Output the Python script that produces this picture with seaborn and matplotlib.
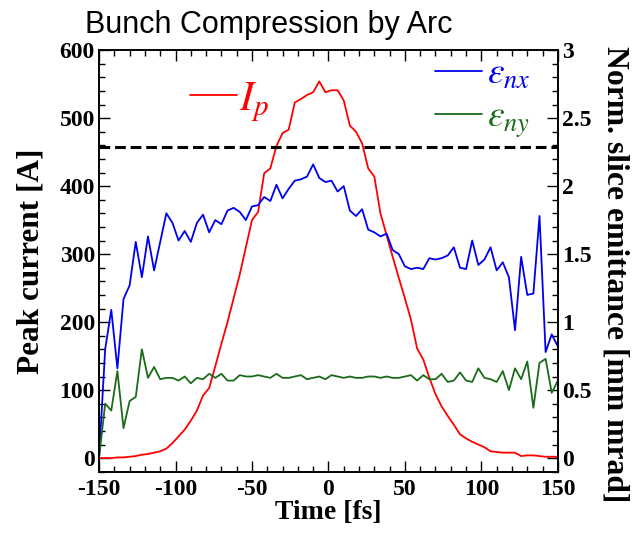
import matplotlib
matplotlib.use("Agg")
import matplotlib.pyplot as plt
import numpy as np
import seaborn as sns
from matplotlib.ticker import MultipleLocator, FuncFormatter

# time axis [fs], 4 fs slices
time = np.arange(-150, 151, 4)

# peak current [A]
peak_current = [0, 0, 0, 1, 1, 2, 3, 5, 6, 8,
                10, 14, 22, 32, 42, 55, 70, 92, 103, 135,
                168, 200, 235, 270, 310, 350, 362, 419, 426, 459,
                478, 483, 523, 528, 534, 538, 554, 538, 541, 541,
                526, 489, 480, 463, 426, 414, 360, 328, 296, 265,
                235, 203, 161, 145, 118, 94, 76, 62, 49, 35,
                29, 24, 20, 16, 10, 9, 8, 8, 8, 3,
                4, 4, 3, 2, 2, 2]

# normalized slice emittance [mm mrad]
eps_nx = [0.00, 0.80, 1.09, 0.66, 1.17, 1.27, 1.59, 1.33, 1.63, 1.38,
          1.59, 1.80, 1.73, 1.60, 1.67, 1.59, 1.73, 1.79, 1.66, 1.75,
          1.72, 1.82, 1.84, 1.81, 1.75, 1.85, 1.86, 1.92, 1.89, 2.01,
          1.91, 1.98, 2.04, 2.05, 2.07, 2.16, 2.06, 2.03, 2.04, 1.96,
          2.00, 1.82, 1.78, 1.83, 1.68, 1.66, 1.63, 1.65, 1.53, 1.50,
          1.41, 1.39, 1.40, 1.39, 1.47, 1.46, 1.47, 1.49, 1.55, 1.40,
          1.39, 1.60, 1.42, 1.46, 1.55, 1.38, 1.44, 1.33, 0.94, 1.48,
          1.20, 1.21, 1.78, 0.78, 0.91, 0.82]

eps_ny = [0.00, 0.40, 0.35, 0.64, 0.22, 0.42, 0.45, 0.80, 0.59, 0.67,
          0.58, 0.59, 0.59, 0.57, 0.60, 0.55, 0.59, 0.58, 0.62, 0.59,
          0.62, 0.57, 0.57, 0.61, 0.60, 0.60, 0.61, 0.60, 0.59, 0.62,
          0.59, 0.59, 0.60, 0.61, 0.58, 0.59, 0.60, 0.58, 0.61, 0.60,
          0.59, 0.60, 0.59, 0.59, 0.60, 0.60, 0.59, 0.60, 0.59, 0.59,
          0.60, 0.61, 0.57, 0.61, 0.58, 0.58, 0.62, 0.56, 0.57, 0.63,
          0.57, 0.56, 0.66, 0.59, 0.58, 0.56, 0.64, 0.50, 0.66, 0.58,
          0.71, 0.37, 0.70, 0.73, 0.48, 0.57]

threshold = 458  # dashed reference level [A]

sns.set_style("ticks")
plt.rcParams['font.family'] = ['Liberation Serif', 'DejaVu Serif']
plt.rcParams['font.weight'] = 'bold'
# keep the legend symbols in regular-weight STIX italic
plt.rcParams['mathtext.fontset'] = 'custom'
plt.rcParams['mathtext.it'] = 'STIXGeneral:style=italic:weight=normal'
plt.rcParams['mathtext.rm'] = 'STIXGeneral:weight=normal'
plt.rcParams['axes.unicode_minus'] = False
plt.rcParams['xtick.direction'] = 'in'
plt.rcParams['ytick.direction'] = 'in'
for key in ('text.color', 'axes.labelcolor', 'xtick.color', 'ytick.color', 'axes.edgecolor'):
    plt.rcParams[key] = 'black'

fig = plt.figure(figsize=(6.39, 5.33), dpi=100)
ax = fig.add_axes([0.155, 0.115, 0.718, 0.791])
ax2 = ax.twinx()

sns.lineplot(x=time, y=peak_current, ax=ax, color='#ff0000', lw=1.3, label=r'$I_p$')
ax.axhline(threshold, color='black', lw=2.2, dashes=(3.5, 1.6))
sns.lineplot(x=time, y=eps_nx, ax=ax2, color='#0000f0', lw=1.3, label=r'$\varepsilon_{nx}$')
sns.lineplot(x=time, y=eps_ny, ax=ax2, color='#1b6b1b', lw=1.3, label=r'$\varepsilon_{ny}$')

ax.set_xlim(-150, 150)
ax.set_ylim(-20, 600)
ax2.set_ylim(-0.1, 3)

ax.xaxis.set_major_locator(MultipleLocator(50))
ax.xaxis.set_minor_locator(MultipleLocator(10))
ax.yaxis.set_major_locator(MultipleLocator(100))
ax.yaxis.set_minor_locator(MultipleLocator(20))
ax2.yaxis.set_major_locator(MultipleLocator(0.5))
ax2.yaxis.set_minor_locator(MultipleLocator(0.1))
ax2.yaxis.set_major_formatter(FuncFormatter(lambda v, p: '%g' % v))

ax.tick_params(axis='x', which='both', top=True, labelsize=17, pad=5)
ax.tick_params(axis='y', which='both', right=False, labelsize=17, pad=3)
ax.tick_params(which='major', length=8, width=1)
ax.tick_params(which='minor', length=4.5, width=1)
ax2.tick_params(axis='y', which='both', labelsize=17, pad=3)
ax2.tick_params(which='major', length=8, width=1)
ax2.tick_params(which='minor', length=4.5, width=1)

for a in (ax, ax2):
    for s in a.spines.values():
        s.set_linewidth(1.2)
        s.set_visible(True)

ax.set_xlabel('Time [fs]', fontsize=20, fontweight='bold', labelpad=0)
ax.set_ylabel('Peak current [A]', fontsize=22.5, fontweight='bold', labelpad=10)
ax2.set_ylabel('Norm. slice emittance [mm mrad]', fontsize=22.8, fontweight='bold',
               rotation=270)
ax2.yaxis.set_label_coords(1.157, 0.469)

ax.legend(loc='center left', bbox_to_anchor=(0.198, 0.877), frameon=False,
          prop={'size': 30, 'weight': 'normal'}, handlelength=1.13,
          handletextpad=0.05, borderpad=0, borderaxespad=0,
          labelcolor='linecolor')
ax2.legend(loc='center left', bbox_to_anchor=(0.732, 0.885), frameon=False,
           prop={'size': 27, 'weight': 'normal'}, handlelength=1.25,
           handletextpad=0.15, borderpad=0, borderaxespad=0,
           labelspacing=0.22, labelcolor='linecolor')

fig.text(0.42, 0.938, 'Bunch Compression by Arc', ha='center', va='baseline',
         fontsize=22, fontweight='normal', family='Liberation Sans', color='black')

fig.savefig('out.png', dpi=100)
